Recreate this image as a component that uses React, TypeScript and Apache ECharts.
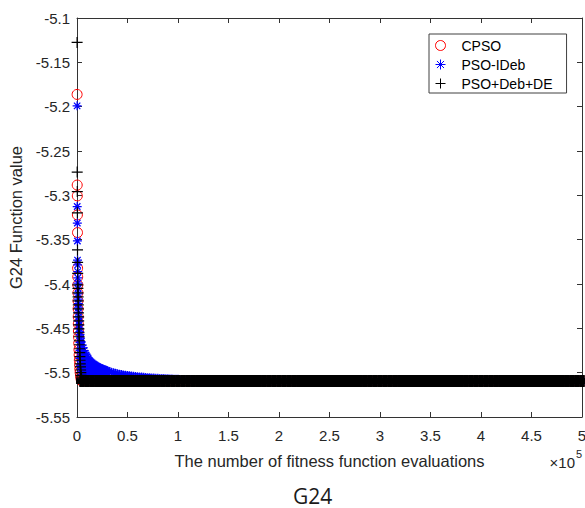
import React, { useEffect, useRef } from "react";
import * as echarts from "echarts";

// ---------- data (evaluations in thousands, function values) ----------
const xTickLabels = ["0", "0.5", "1", "1.5", "2", "2.5", "3", "3.5", "4", "4.5", "5"];

// CPSO – early convergence points [evaluations (k), value]
const cpsoEarly: [number, number][] = [
  [0.1, -5.1862], [0.2, -5.2884], [0.3, -5.3006], [0.4, -5.3221], [0.5, -5.342],
  [0.6, -5.3822], [0.7, -5.392], [0.8, -5.401], [0.9, -5.41], [1.0, -5.419],
  [1.1, -5.428], [1.2, -5.437], [1.3, -5.445], [1.4, -5.453], [1.5, -5.46],
  [1.7, -5.467], [1.9, -5.474], [2.1, -5.48], [2.3, -5.486], [2.5, -5.491],
  [2.8, -5.496], [3.1, -5.5], [3.5, -5.504], [4.0, -5.507], [4.5, -5.509],
];

// PSO-IDeb – [evaluations (k), value]
const psoIDebPoints: [number, number][] = [
  [0.1, -5.1991], [0.2, -5.3126], [0.3, -5.3313], [0.4, -5.3515], [0.5, -5.373],
  [0.6, -5.3785], [0.7, -5.386], [0.8, -5.393], [0.9, -5.399], [1.0, -5.405],
  [1.1, -5.411], [1.2, -5.417], [1.3, -5.422], [1.4, -5.427], [1.5, -5.432],
  [1.7, -5.437], [1.9, -5.442], [2.1, -5.446], [2.4, -5.45], [2.7, -5.454],
  [3.0, -5.457], [3.0, -5.466], [3.0, -5.475], [3.0, -5.484], [3.0, -5.493],
  [3.5, -5.461], [4.0, -5.465], [4.0, -5.474], [4.0, -5.483], [4.0, -5.492], [4.0, -5.4995],
  [5, -5.469], [5, -5.478], [5, -5.487], [5, -5.496],
  [6, -5.472], [6, -5.481], [6, -5.49], [6, -5.4995],
  [7, -5.475], [7, -5.484], [7, -5.493], [7, -5.4995],
  [8, -5.478], [8, -5.488], [8, -5.4995],
  [9, -5.48], [9, -5.49], [9, -5.4995],
  [10, -5.482], [10, -5.491], [10, -5.4995],
  [11, -5.4835], [11, -5.4915], [11, -5.4995],
  [12, -5.486], [12, -5.493], [12, -5.4995],
  [13, -5.487], [13, -5.4935], [13, -5.4995],
  [14, -5.488], [14, -5.494], [14, -5.4995],
  [15, -5.489], [15, -5.4945], [15, -5.4995],
  [16, -5.49], [16, -5.4995],
  [17, -5.4908], [17, -5.4995],
  [18, -5.4915], [18, -5.4995],
  [19, -5.4923], [19, -5.4995],
  [20, -5.493], [20, -5.4995],
  [21, -5.4936], [21, -5.4995],
  [22, -5.4942], [22, -5.4995],
  [23, -5.4947], [23, -5.4995],
  [24, -5.4952], [24, -5.4995],
  [25, -5.4957], [25, -5.4995],
  [26, -5.4962], [26, -5.4995],
  [27, -5.4966], [27, -5.4995],
  [28, -5.497], [28, -5.4995],
  [29, -5.4974], [29, -5.4995],
  [30, -5.4978], [30, -5.4995],
  [32, -5.499], [34, -5.4995], [36, -5.5001], [38, -5.5007], [40, -5.5012],
  [42, -5.5017], [44, -5.5021], [46, -5.5025], [48, -5.5029], [50, -5.5032],
  [52, -5.5035], [54, -5.5038], [56, -5.5041], [58, -5.5044], [60, -5.5046],
  [62, -5.5048], [64, -5.505], [66, -5.5052], [68, -5.5054], [70, -5.5056],
  [72, -5.5058], [74, -5.5059], [76, -5.5061], [78, -5.5062], [80, -5.5064],
  [82, -5.5065], [84, -5.5066], [86, -5.5067], [88, -5.5069], [90, -5.507],
  [92, -5.5071], [94, -5.5072], [96, -5.5073], [98, -5.5074], [100, -5.5075],
  [104, -5.5077], [108, -5.5078], [112, -5.5079], [116, -5.508], [120, -5.5081],
  [124, -5.5082], [128, -5.5083], [132, -5.5083], [136, -5.5084], [140, -5.5085],
  [145, -5.5087], [150, -5.5089], [160, -5.5091], [170, -5.5093], [180, -5.5094],
  [190, -5.5095], [200, -5.5095], [210, -5.5095], [220, -5.5095], [230, -5.5095],
  [240, -5.5095], [250, -5.5095], [260, -5.5095], [270, -5.5095], [280, -5.5095],
  [290, -5.5095], [300, -5.5095], [310, -5.5095], [320, -5.5095], [330, -5.5095],
  [340, -5.5095], [350, -5.5095], [360, -5.5095], [370, -5.5095], [380, -5.5095],
  [390, -5.5095], [400, -5.5095], [410, -5.5095], [420, -5.5095], [430, -5.5095],
  [440, -5.5095], [450, -5.5095], [460, -5.5095], [470, -5.5095], [480, -5.5095],
  [490, -5.5095], [500, -5.5095],
];

// PSO+Deb+DE – early convergence points [evaluations (k), value]
const deEarly: [number, number][] = [
  [0.1, -5.1275], [0.2, -5.2738], [0.3, -5.2958], [0.4, -5.3197], [0.5, -5.3616],
  [0.6, -5.3755], [0.7, -5.388], [0.8, -5.401], [0.9, -5.405], [1.0, -5.41],
  [1.1, -5.4145], [1.2, -5.419], [1.3, -5.4235], [1.4, -5.428], [1.5, -5.4325],
  [1.6, -5.437], [1.7, -5.4415], [1.8, -5.446], [1.9, -5.4505], [2.0, -5.455],
  [2.15, -5.4595], [2.3, -5.464], [2.45, -5.4685], [2.6, -5.473], [2.75, -5.4775],
  [2.9, -5.482], [3.05, -5.486], [3.2, -5.49], [3.4, -5.4935], [3.6, -5.497],
  [3.8, -5.5], [4.0, -5.503], [4.25, -5.505], [4.5, -5.507],
];

// converged plateau (CPSO and PSO+Deb+DE), evaluations in thousands
const tailEvalsK = [
  5, 10, 15, 20, 25, 30, 35, 40, 45, 50,
  55, 60, 65, 70, 75, 80, 85, 90, 95, 100,
  105, 110, 115, 120, 125, 130, 135, 140, 145, 150,
  155, 160, 165, 170, 175, 180, 185, 190, 195, 200,
  205, 210, 215, 220, 225, 230, 235, 240, 245, 250,
  255, 260, 265, 270, 275, 280, 285, 290, 295, 300,
  305, 310, 315, 320, 325, 330, 335, 340, 345, 350,
  355, 360, 365, 370, 375, 380, 385, 390, 395, 400,
  405, 410, 415, 420, 425, 430, 435, 440, 445, 450,
  455, 460, 465, 470, 475, 480, 485, 490, 495, 500,
];
const plateauValues = [
  -5.5095, -5.5095, -5.5095, -5.5095, -5.5095, -5.5095, -5.5095, -5.5095, -5.5095, -5.5095,
  -5.5095, -5.5095, -5.5095, -5.5095, -5.5095, -5.5095, -5.5095, -5.5095, -5.5095, -5.5095,
  -5.5095, -5.5095, -5.5095, -5.5095, -5.5095, -5.5095, -5.5095, -5.5095, -5.5095, -5.5095,
  -5.5095, -5.5095, -5.5095, -5.5095, -5.5095, -5.5095, -5.5095, -5.5095, -5.5095, -5.5095,
  -5.5095, -5.5095, -5.5095, -5.5095, -5.5095, -5.5095, -5.5095, -5.5095, -5.5095, -5.5095,
  -5.5095, -5.5095, -5.5095, -5.5095, -5.5095, -5.5095, -5.5095, -5.5095, -5.5095, -5.5095,
  -5.5095, -5.5095, -5.5095, -5.5095, -5.5095, -5.5095, -5.5095, -5.5095, -5.5095, -5.5095,
  -5.5095, -5.5095, -5.5095, -5.5095, -5.5095, -5.5095, -5.5095, -5.5095, -5.5095, -5.5095,
  -5.5095, -5.5095, -5.5095, -5.5095, -5.5095, -5.5095, -5.5095, -5.5095, -5.5095, -5.5095,
  -5.5095, -5.5095, -5.5095, -5.5095, -5.5095, -5.5095, -5.5095, -5.5095, -5.5095, -5.5095,
];

// ---------- styling ----------
const FONT = "Liberation Sans, Arial, sans-serif";
const AXIS_COLOR = "#333333";
const TEXT_COLOR = "#262626";
const STAR = "path://M0,4.5H9M4.5,0V9M1.3,1.3L7.7,7.7M1.3,7.7L7.7,1.3";
const PLUS = "path://M0,5.5H11M5.5,0V11";

export default function App() {
  const ref = useRef<HTMLDivElement>(null);

  useEffect(() => {
    if (!ref.current) return;
    const chart = echarts.init(ref.current, null, { renderer: "svg" });

    const toPts = (pairs: [number, number][]) => pairs.map(([e, v]) => [e * 1000, v]);
    const tail = (vals: number[]) => tailEvalsK.map((e, i) => [e * 1000, vals[i]]);

    const circleStyle = { color: "rgba(0,0,0,0)", borderColor: "#ff0000", borderWidth: 1, opacity: 1 };
    const starStyle = { color: "rgba(0,0,0,0)", borderColor: "#0000ff", borderWidth: 1.25, opacity: 1 };
    const plusStyle = { color: "rgba(0,0,0,0)", borderColor: "#000000", borderWidth: 1.2, opacity: 1 };
    // the plateau markers are packed so densely that they merge into a solid band
    const plusBandStyle = { color: "rgba(0,0,0,0)", borderColor: "#000000", borderWidth: 5.6, opacity: 1 };

    const baseAxis = {
      type: "value" as const,
      axisLine: { show: true, onZero: false, lineStyle: { color: AXIS_COLOR, width: 1 } },
      axisTick: { show: true, inside: true, length: 5, lineStyle: { color: AXIS_COLOR } },
      splitLine: { show: false },
    };

    const common = { type: "scatter" as const, silent: true, emphasis: { disabled: true } };

    chart.setOption({
      animation: false,
      backgroundColor: "#ffffff",
      grid: {
        left: 77,
        top: 18,
        right: 3,
        bottom: 91,
        containLabel: false,
        outerBoundsMode: "none",
      },
      xAxis: [
        {
          ...baseAxis,
          position: "bottom",
          min: 0,
          max: 500000,
          interval: 50000,
          axisLabel: {
            show: true,
            margin: 11,
            color: TEXT_COLOR,
            fontFamily: FONT,
            fontSize: 15,
            formatter: (v: number) => xTickLabels[Math.round(v / 50000)] ?? "",
          },
          name: "The number of fitness function evaluations",
          nameLocation: "middle",
          nameGap: 35,
          nameTextStyle: { color: TEXT_COLOR, fontFamily: FONT, fontSize: 16.5 },
        },
        {
          ...baseAxis,
          position: "top",
          min: 0,
          max: 500000,
          interval: 50000,
          axisLabel: { show: false },
        },
      ],
      yAxis: [
        {
          ...baseAxis,
          position: "left",
          min: -5.55,
          max: -5.1,
          interval: 0.05,
          axisLabel: {
            show: true,
            margin: 7,
            color: TEXT_COLOR,
            fontFamily: FONT,
            fontSize: 15,
            formatter: (v: number) => String(+v.toFixed(2)),
          },
          name: "G24 Function value",
          nameLocation: "middle",
          nameGap: 43,
          nameTextStyle: { color: TEXT_COLOR, fontFamily: FONT, fontSize: 16.5 },
        },
        {
          ...baseAxis,
          position: "right",
          min: -5.55,
          max: -5.1,
          interval: 0.05,
          axisLabel: { show: false },
        },
      ],
      legend: {
        orient: "vertical",
        left: 429,
        top: 34,
        padding: [2, 14, 0, 6],
        itemWidth: 32,
        itemHeight: 10,
        itemGap: 0,
        selectedMode: false,
        backgroundColor: "#ffffff",
        borderColor: "#404040",
        borderWidth: 1,
        borderRadius: 0,
        textStyle: { fontFamily: FONT, fontSize: 14, color: "#000000", lineHeight: 19 },
        data: [
          { name: "CPSO", icon: "circle", itemStyle: circleStyle },
          { name: "PSO-IDeb", icon: STAR, itemStyle: { ...starStyle, borderWidth: 1 } },
          { name: "PSO+Deb+DE", icon: PLUS, itemStyle: { ...plusStyle, borderWidth: 1 } },
        ],
      },
      series: [
        { ...common, name: "CPSO", data: toPts(cpsoEarly), symbol: "circle", symbolSize: 10, itemStyle: circleStyle, z: 2 },
        { ...common, name: "CPSO", data: tail(plateauValues), symbol: "circle", symbolSize: 10, itemStyle: circleStyle, z: 2 },
        { ...common, name: "PSO-IDeb", data: toPts(psoIDebPoints), symbol: STAR, symbolSize: 9, itemStyle: starStyle, z: 3 },
        { ...common, name: "PSO+Deb+DE", data: toPts(deEarly), symbol: PLUS, symbolSize: 11, itemStyle: plusStyle, z: 4 },
        { ...common, name: "PSO+Deb+DE", data: tail(plateauValues), symbol: PLUS, symbolSize: 12, itemStyle: plusBandStyle, z: 5 },
      ],
      graphic: [
        {
          type: "text",
          right: 10,
          top: 455,
          style: { text: "×10", fontFamily: FONT, fontSize: 15, fill: TEXT_COLOR },
        },
        {
          type: "text",
          left: 576,
          top: 448,
          style: { text: "5", fontFamily: FONT, fontSize: 11, fill: TEXT_COLOR },
        },
        {
          type: "text",
          left: 293,
          top: 485,
          style: { text: "G24", fontFamily: "Open Sans, Noto Sans, sans-serif", fontSize: 21, fill: "#1a1a1a" },
        },
      ],
    });

    return () => chart.dispose();
  }, []);

  return (
    <div
      ref={ref}
      style={{ position: "fixed", left: 0, top: 0, width: 585, height: 508, background: "#fff" }}
    />
  );
}
